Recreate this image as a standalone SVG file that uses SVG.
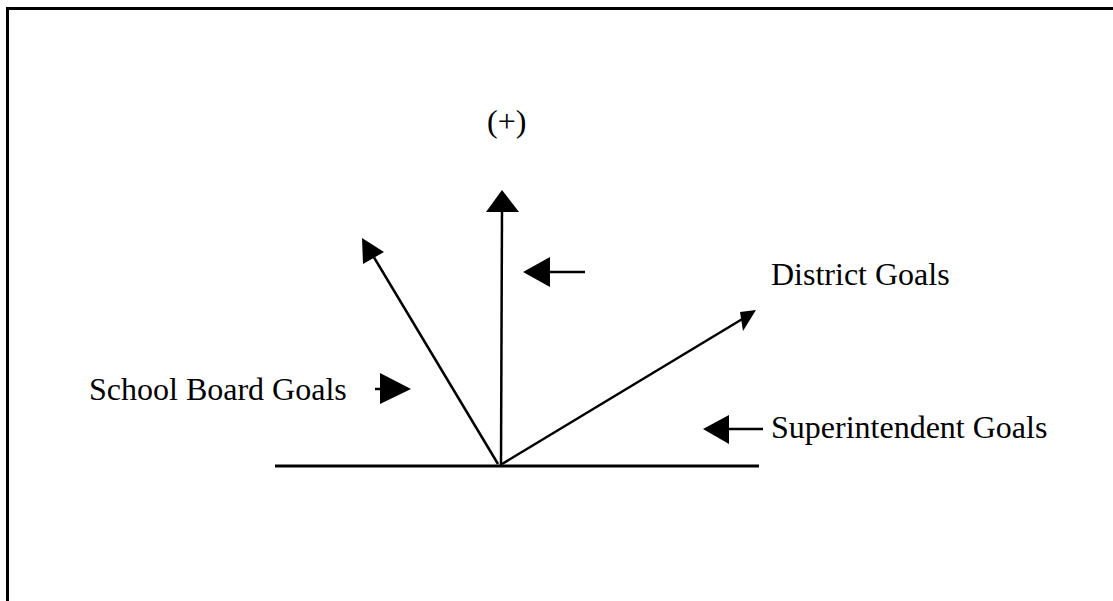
<svg xmlns="http://www.w3.org/2000/svg" width="1113" height="601" viewBox="0 0 1113 601">
<style>
text{font-family:"Liberation Serif","Times New Roman",serif;font-size:32px;fill:#000}
.ln{stroke:#000;stroke-width:2.5;fill:none}
.hd{fill:#000;stroke:none}
</style>
<rect x="0" y="0" width="1113" height="601" fill="#fff"/>
<g id="frame">
<path d="M7.5,601 V8.5 H1113" stroke="#000" stroke-width="3" fill="none"/>
</g>
<g id="baseline">
<line x1="275" y1="466" x2="759" y2="466" stroke="#000" stroke-width="3"/>
</g>
<g id="connectors">
<line class="ln" x1="501" y1="465" x2="502" y2="208"/>
<polygon class="hd" points="502,190 519,212 486,212"/>
<line class="ln" x1="498" y1="464" x2="372" y2="254"/>
<polygon class="hd" points="362,238 384,252 363,264"/>
<line class="ln" x1="502" y1="464" x2="744" y2="318"/>
<polygon class="hd" points="756,310 743,331 740,312"/>
</g>
<g id="plus">
<text x="487" y="132">(+)</text>
</g>
<g id="pointer-plus">
<line class="ln" x1="548" y1="272" x2="585" y2="272"/>
<polygon class="hd" points="523,272 550,257 550,287"/>
</g>
<g id="school-board">
<text x="89" y="400">School Board Goals</text>
<line class="ln" x1="375" y1="389" x2="383" y2="389"/>
<polygon class="hd" points="411,389 380,373 380,404"/>
</g>
<g id="district">
<text x="771" y="285">District Goals</text>
</g>
<g id="superintendent">
<text x="771" y="438">Superintendent Goals</text>
<line class="ln" x1="726" y1="429" x2="763" y2="429"/>
<polygon class="hd" points="703,429 729,415 729,444"/>
</g>
</svg>
